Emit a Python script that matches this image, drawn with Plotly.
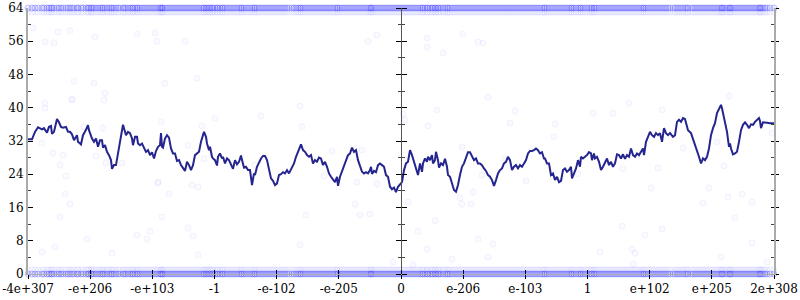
import numpy as np
import plotly.graph_objects as go

# ---- axis (ordinal bucket scale: 0 .. 746, 12 equal tick intervals) ----
x_span = 746
x_tick_labels = ["-4e+307", "-e+206", "-e+103", "-1", "-e-102", "-e-205", "0",
                 "e-206", "e-103", "1", "e+102", "e+205", "2e+308"]
y_max = 64

# ---- moving-average line (position on ordinal scale, value) ----
line_x = [0,4,7,10,14,16,19,21,23,24,26,29,31,33,35,38,40,42,44,46,49,50,53,55,58,60,61,63,64,66,68,70,72,74,75,77,79,81,83,84,86,88,90,92,95,96,98,100,102,104,105,107,109,110,112,114,116,118,120,122,124,126,128,130,
          132,133,134,135,137,139,141,143,145,147,149,151,153,155,157,159,161,163,165,167,169,171,173,175,176,178,179,181,182,184,185,187,189,190,192,194,195,197,199,201,203,205,207,209,211,213,214,216,218,220,222,224,226,227,229,231,233,235,237,239,241,243,245,247,249,251,253,255,257,259,261,
          264,266,268,270,272,273,275,277,279,281,283,285,287,289,291,293,295,297,299,301,303,305,307,309,310,312,314,316,318,320,322,324,326,328,330,332,334,336,338,340,342,343,344,346,348,350,352,354,356,358,360,362,364,366,368,370,372,
          374,376,378,380,382,384,386,388,390,392,394,395,397,399,400,402,404,405,407,408,410,411,413,415,417,419,420,422,424,426,428,430,432,434,436,438,440,442,444,446,448,450,452,454,456,458,460,462,464,466,468,470,472,474,476,478,480,482,484,486,488,490,492,494,496,498,500,502,504,506,508,510,512,514,516,
          517,519,521,523,525,527,529,531,533,535,537,539,541,543,544,546,548,550,552,553,555,557,559,561,563,564,566,567,569,571,573,575,577,579,581,583,585,587,589,591,593,595,597,599,601,603,605,607,609,611,613,615,616,618,620,622,624,626,628,630,632,634,636,638,640,642,
          645,647,649,651,653,655,657,659,660,663,665,667,669,671,673,675,677,679,681,683,685,687,689,691,693,694,695,697,699,701,702,703,705,707,709,711,713,715,717,719,721,723,725,727,729,731,732,733,735,737,739,742,746]
line_y = [32.4,32.4,34.2,35.3,34.8,35.1,34.0,35.4,35.6,33.7,34.2,37.3,36.5,35.4,35.2,35.4,34.2,34.2,33.6,32.2,33.4,31.8,31.2,33.4,34.7,35.8,34.6,33.0,32.6,31.8,32.6,30.6,32.2,32.2,30.4,31.0,29.4,28.6,27.4,25.3,26.2,26.2,29.4,31.8,35.9,35.1,33.4,34.2,33.9,32.6,31.0,33.0,33.0,31.4,31.0,31.4,30.2,29.4,29.8,28.6,29.3,27.8,29.6,30.6,
          31.0,33.9,30.6,30.4,32.6,33.4,32.8,30.2,29.0,29.0,27.2,27.4,26.2,25.4,24.8,27.0,26.2,25.0,26.2,28.6,29.0,29.4,31.8,33.4,34.2,33.0,31.4,29.8,30.6,28.2,27.8,27.4,26.1,28.2,29.0,27.8,28.2,26.6,27.8,27.4,26.2,25.3,27.4,26.4,27.0,28.5,27.4,25.6,25.8,25.0,25.0,21.4,24.2,23.8,25.8,27.0,27.8,28.4,28.4,27.4,25.0,23.0,22.4,21.4,21.8,23.8,24.0,24.5,24.2,25.0,24.2,
          25.8,26.6,28.2,29.4,30.2,31.2,29.8,29.4,28.6,28.2,28.6,26.6,27.4,27.0,28.0,27.8,26.2,27.0,25.8,24.2,23.4,22.6,22.1,23.4,21.2,23.4,24.6,25.8,27.4,28.6,29.0,30.4,29.4,29.8,27.4,26.2,24.6,24.2,24.5,24.2,25.0,25.8,24.1,24.8,24.5,26.2,26.6,26.2,25.8,23.8,23.4,21.0,20.4,20.8,19.7,21.0,21.6,
          22.1,25.0,26.6,27.0,29.8,28.6,27.0,25.0,23.8,26.6,24.6,26.6,27.8,27.0,28.2,27.4,28.6,26.6,27.4,29.4,27.4,25.6,26.6,26.2,27.7,25.8,23.8,23.4,21.8,20.2,19.8,21.4,23.8,25.8,26.6,28.2,29.3,29.3,28.2,27.4,27.8,26.6,26.6,26.2,25.4,24.8,23.8,23.4,22.6,21.2,22.6,24.2,25.0,25.4,26.6,27.0,28.2,27.4,25.0,25.8,26.2,25.4,26.2,25.8,26.6,27.4,29.0,29.6,29.6,29.8,30.2,29.8,29.0,29.3,27.8,
          27.8,26.6,26.6,23.8,24.2,22.6,23.4,22.1,22.4,25.0,25.4,24.6,25.0,25.8,23.0,24.2,25.4,27.4,25.8,28.2,27.8,28.2,28.6,29.3,29.0,27.4,29.0,27.8,28.2,27.0,25.0,25.8,27.0,27.8,26.2,27.0,25.8,26.6,28.8,28.6,27.8,28.8,27.7,28.6,28.2,30.2,28.6,28.2,29.0,28.6,29.4,30.2,28.6,31.8,33.0,34.2,33.4,33.0,33.9,33.4,33.9,31.8,35.1,33.9,33.4,33.9,
          33.0,33.4,36.6,37.1,36.6,37.5,37.3,35.4,34.6,33.9,32.6,31.0,29.8,28.2,26.6,27.8,27.4,28.2,30.2,33.4,35.1,36.3,38.7,39.9,40.7,39.9,38.7,36.6,34.2,30.6,31.4,30.2,28.8,29.0,29.4,31.8,34.6,35.9,36.5,35.9,35.1,36.0,35.9,36.6,37.1,37.5,36.8,35.1,36.5,36.5,36.4,36.3,36.3]

# ---- scattered individual samples ----
pts_x = [5,17,26,30,42,67,109,127,129,157,46,66,77,137,169,44,
         17,17,44,76,14,25,35,32,38,68,78,94,75,37,130,56,
         42,32,14,27,59,84,109,122,119,134,160,165,170,
         327,278,332,342,272,365,385,390,399,407,424,450,465,460,434,443,380,
         594,617,634,604,607,605,693,724,739,707,675,724,572,
         340,399,399,415,450,455,349,435,
         133,187,174,233,160,176,130,164,170,141,227,
         272,274,304,334,296,329,349,375,377,
         460,409,400,487,482,434,477,454,498,445,432,
         601,634,565,585,527,526,550,595,630,623,
         701,655,689,696,744,681,700,714]
pts_y = [59.2,55.8,55.6,58.2,58.5,57,57.7,58,56,56,46.4,45.9,43.5,45.9,47.1,42,
         41.1,39.9,41.9,41.9,31.5,29.1,28.6,26.2,23.6,28.4,26.7,26.7,35.1,19.2,21.9,35.4,
         16.8,13.7,5.3,6.5,8.4,5.0,9.4,10.3,8.4,13.7,11.1,9.1,4.6,
         16.8,14.2,14.2,14.4,7.0,2.9,2.2,10.3,6.0,12.8,3.6,8.4,7.2,4.1,16.8,16.8,17.3,
         11.5,9.4,10.8,6.0,5.0,2.4,4.1,7.5,2.9,13.5,17.1,17.3,5.3,
         56,56.8,54.6,53.2,55.8,55.6,57.5,57.7,
         36.6,37.5,35.6,38,31,27.7,22.1,21.4,20.9,19.2,26.2,
         40.4,35.4,29.6,29.8,23.6,22.1,21.7,38.5,37.1,
         42.6,39.5,35.6,39.2,36.3,30.6,27.9,23.8,22.4,19.7,18.3,
         41.1,39.5,38.7,38.7,36.1,33,24.1,25.3,25.5,20.7,
         42.8,30.3,31.8,26,33.9,20.7,18.5,19.2]

# dense bands of samples at the extremes (exact 0 / 64 are very frequent)
band_levels = [0, 0, 0, 0, 1, 64, 64, 64, 64, 63]

fig = go.Figure()

marker_style = dict(size=6, color="rgba(30,30,255,0.02)",
                    line=dict(color="rgba(30,30,255,0.06)", width=1))

bx, by = [], []
for lv in band_levels:
    bx += line_x
    by += [lv] * len(line_x)
fig.add_trace(go.Scatter(x=bx + pts_x, y=by + pts_y, mode="markers",
                         marker=marker_style, cliponaxis=False,
                         hoverinfo="skip", showlegend=False))

fig.add_trace(go.Scatter(x=line_x, y=line_y, mode="lines",
                         line=dict(color="#25258f", width=2),
                         showlegend=False))

# invisible anchors so the decorative tick axes get drawn
for xa, ya in [("x2", "y"), ("x", "y2"), ("x", "y3"), ("x", "y4"), ("x", "y5")]:
    fig.add_trace(go.Scatter(x=[0], y=[0], xaxis=xa, yaxis=ya, mode="markers",
                             marker=dict(opacity=0), hoverinfo="skip",
                             showlegend=False))

tick_font = dict(family="DejaVu Serif", size=12, color="black")
x_ticks = list(np.linspace(0, x_span, len(x_tick_labels)))
common = dict(showgrid=False, zeroline=False, automargin=False)

fig.update_layout(
    width=800, height=300,
    margin=dict(l=28, r=26, t=8, b=26),
    paper_bgcolor="white", plot_bgcolor="white",
    xaxis=dict(range=[0, x_span], tickvals=x_ticks, ticktext=x_tick_labels,
               ticks="outside", ticklen=4, tickcolor="black", tickwidth=1,
               showline=True, linecolor="#aaaaaa", linewidth=1,
               tickfont=tick_font, **common),
    xaxis2=dict(overlaying="x", anchor="y", range=[0, x_span], tickvals=x_ticks,
                showticklabels=False, ticks="inside", ticklen=4,
                tickcolor="black", showline=False, **common),
    yaxis=dict(range=[0, y_max], dtick=8, tick0=0, ticks="inside", ticklen=5,
               tickcolor="black", showline=True, linecolor="#aaaaaa", linewidth=2,
               tickfont=tick_font,
               minor=dict(dtick=4, ticks="inside", ticklen=3, tickcolor="#444"),
               **common),
    yaxis2=dict(overlaying="y", side="right", anchor="x", range=[0, y_max],
                dtick=8, tick0=0, ticks="outside", ticklen=3, tickcolor="black",
                showline=True, linecolor="#aaaaaa", linewidth=2,
                showticklabels=False, **common),
    yaxis3=dict(overlaying="y", side="right", anchor="x", range=[0, y_max],
                dtick=8, tick0=0, ticks="inside", ticklen=3, tickcolor="black",
                showline=False, showticklabels=False,
                minor=dict(dtick=4, ticks="inside", ticklen=3, tickcolor="#444"),
                **common),
    yaxis4=dict(overlaying="y", side="left", anchor="free", position=0.5,
                range=[0, y_max], dtick=8, tick0=0, ticks="outside", ticklen=5,
                tickcolor="black", showline=True, linecolor="#555555", linewidth=1,
                showticklabels=False,
                minor=dict(dtick=4, ticks="outside", ticklen=3, tickcolor="#444"),
                **common),
    yaxis5=dict(overlaying="y", side="right", anchor="free", position=0.5,
                range=[0, y_max], dtick=8, tick0=0, ticks="outside", ticklen=5,
                tickcolor="black", showline=False, showticklabels=False,
                minor=dict(dtick=4, ticks="outside", ticklen=3, tickcolor="#444"),
                **common),
)

fig.write_html("out.html")
